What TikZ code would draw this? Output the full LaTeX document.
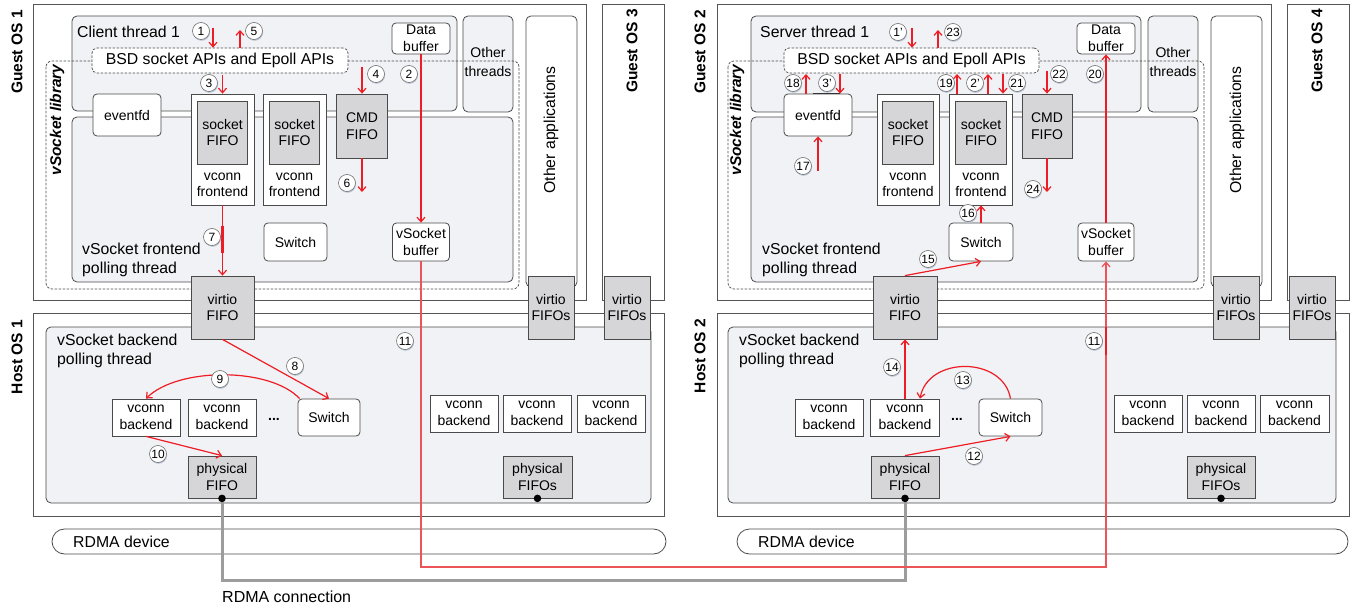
\documentclass[tikz,border=0pt]{standalone}
\usepackage{fontspec}
\setmainfont{Liberation Sans}
\usetikzlibrary{arrows.meta,shadows}
\definecolor{osedge}{HTML}{555555}
\definecolor{edge}{HTML}{4A4A4A}
\definecolor{paneFill}{HTML}{F1F2F5}
\definecolor{fifoFill}{HTML}{D6D6D8}
\definecolor{flow}{HTML}{EE1C24}
\definecolor{flowLong}{HTML}{EC5458}
\definecolor{link}{HTML}{9C9C9C}
\definecolor{badgeShadow}{HTML}{BCC8DA}
\newcommand\ndfont{\fontsize{14}{16.5}\selectfont}
\newcommand\ttlfont{\fontsize{15.8}{19}\selectfont}
\begin{document}
\begin{tikzpicture}[x=1pt,y=-1pt,
  osbox/.style={draw=osedge,line width=1pt},
  pane/.style={draw=edge,line width=0.8pt,fill=paneFill,rounded corners=5pt},
  whitepane/.style={draw=edge,line width=0.8pt,fill=white,rounded corners=5pt},
  libbox/.style={draw=edge,line width=0.7pt,dash pattern=on 2.5pt off 1.5pt,rounded corners=6pt},
  apibox/.style={draw=edge,line width=0.7pt,dash pattern=on 2.5pt off 1.5pt,fill=white,rounded corners=5pt,font=\ttlfont,inner sep=0pt},
  rail/.style={draw=edge,line width=0.8pt,rounded corners=12.5pt},
  rnode/.style={draw=edge,fill=white,line width=0.8pt,rounded corners=4pt,align=center,font=\ndfont,inner sep=0pt},
  snode/.style={draw=edge,fill=white,line width=0.8pt,align=center,font=\ndfont,inner sep=0pt},
  fifo/.style={draw=edge,fill=fifoFill,line width=0.8pt,align=center,font=\ndfont,inner sep=0pt},
  sz/.style 2 args={minimum width=#1pt,minimum height=#2pt},
  osname/.style={font=\bfseries\fontsize{15.5}{18}\selectfont,rotate=90,inner sep=0pt},
  libname/.style={font=\bfseries\itshape\fontsize{15.5}{18}\selectfont,rotate=90,inner sep=0pt},
  title/.style={font=\ttlfont,align=left,anchor=west,inner sep=0pt},
  plain/.style={font=\ndfont,align=center,inner sep=0pt},
  flowarrow/.style={draw=flow,line width=1.2pt,-{Straight Barb[length=4.5pt,width=8pt]}},
  thickflow/.style={draw=flow,line width=2.2pt},
  longflow/.style={draw=flowLong,line width=1.3pt,-{Straight Barb[length=4.5pt,width=8pt]}},
  rdma/.style={draw=link,line width=3pt},
  badge/.style={circle,draw=edge!80,fill=white,line width=0.6pt,minimum size=17pt,inner sep=0pt,
    font=\fontsize{12}{12}\selectfont,
    drop shadow={shadow xshift=0.6pt,shadow yshift=-1.3pt,fill=badgeShadow,opacity=1}}
]
\useasboundingbox (0,0) rectangle (1351,609);

% ---------- operating system frames ----------
\draw[osbox] (33,5) rectangle (586,301);
\draw[osbox] (602,5) rectangle (664,301);
\draw[osbox] (33,314) rectangle (664,516);
\draw[osbox] (717,5) rectangle (1271,301);
\draw[osbox] (1287,5) rectangle (1349,301);
\draw[osbox] (717,314) rectangle (1349,516);
\node[osname] (g1) at (17,52) {Guest OS 1};
\node[osname] (g3) at (632,51) {Guest OS 3};
\node[osname] (h1) at (17,357) {Host OS 1};
\node[osname] (g2) at (700,52) {Guest OS 2};
\node[osname] (g4) at (1317,51) {Guest OS 4};
\node[osname] (h2) at (700,356) {Host OS 2};

% ---------- thread panes, client side ----------
\draw[pane] (72,16) rectangle (457,111);
\draw[pane] (72,117) rectangle (513,282);
\draw[pane] (463,16) rectangle (513,112);
\draw[whitepane] (526,16) rectangle (577,287);
\draw[pane] (46,327) rectangle (651,503);
\draw[rail] (52,529) rectangle (666,554);
\node[title] (ctL) at (77,32) {Client thread 1};
\node[plain,font=\fontsize{14}{20}\selectfont] (otL) at (488,62) {Other\\threads};
\node[plain,rotate=90,font=\ttlfont] (oaL) at (551,130) {Other applications};
\node[title] (fpL) at (82,259.5) {vSocket frontend\\polling thread};
\node[title] (bpL) at (57,351) {vSocket backend\\polling thread};
\node[title] (rdL) at (73,542) {RDMA device};

% ---------- thread panes, server side ----------
\draw[pane] (751,16) rectangle (1141,112);
\draw[pane] (751,117) rectangle (1198,282);
\draw[pane] (1148,16) rectangle (1198,112);
\draw[whitepane] (1211,16) rectangle (1262,287);
\draw[pane] (728,327) rectangle (1336,503);
\draw[rail] (737,529) rectangle (1348,554);
\node[title] (stR) at (760,32) {Server thread 1};
\node[plain,font=\fontsize{14}{20}\selectfont] (otR) at (1173,62) {Other\\threads};
\node[plain,rotate=90,font=\ttlfont] (oaR) at (1237,130) {Other applications};
\node[title] (fpR) at (762,259.5) {vSocket frontend\\polling thread};
\node[title] (bpR) at (739,351) {vSocket backend\\polling thread};
\node[title] (rdR) at (758,542) {RDMA device};

% ---------- vSocket library outlines and API layer ----------
\draw[libbox] (46,61) rectangle (519,289);
\draw[libbox] (728,61) rectangle (1204,289);
\node[libname] (libL) at (57,120) {vSocket library};
\node[libname] (libR) at (737,120) {vSocket library};
\node[apibox,sz={256}{25}] (bsdL) at (220,60.5) {BSD socket APIs and Epoll APIs};
\node[apibox,sz={255}{25}] (bsdR) at (911.5,60.5) {BSD socket APIs and Epoll APIs};

% ---------- client side components ----------
\node[rnode,sz={68}{42}] (evL) at (127,115) {eventfd};
\node[snode,sz={63}{111}] (vf1L) at (222.5,149.5) {};
\node[fifo,sz={50}{63}] (sf1L) at (222.5,132.5) {socket\\FIFO};
\node[plain] (vt1L) at (222.5,185) {vconn\\frontend};
\node[snode,sz={63}{111}] (vf2L) at (294.5,149.5) {};
\node[fifo,sz={50}{63}] (sf2L) at (294.5,132.5) {socket\\FIFO};
\node[plain] (vt2L) at (294.5,185) {vconn\\frontend};
\node[fifo,sz={51}{64}] (cmdL) at (362,126) {CMD\\FIFO};
\node[rnode,sz={58}{31}] (dbL) at (421,38.5) {Data\\buffer};
\node[rnode,sz={63}{38}] (swFL) at (295.5,242) {Switch};
\node[rnode,sz={57}{38}] (vbufL) at (421,242) {vSocket\\buffer};
\node[fifo,sz={63}{63}] (virtioL) at (222.5,307.5) {virtio\\FIFO};
\node[fifo,sz={46}{63}] (vq1L) at (551,307.5) {virtio\\FIFOs};
\node[fifo,sz={46}{63}] (vq2L) at (627,307.5) {virtio\\FIFOs};
\node[snode,sz={68}{37}] (vb1L) at (146,417.5) {vconn\\backend};
\node[snode,sz={68}{37}] (vb2L) at (222,417.5) {vconn\\backend};
\node[plain,font=\bfseries\ndfont] (dotsL) at (274,419) {...};
\node[rnode,sz={62}{37}] (swBL) at (329,417.5) {Switch};
\node[fifo,sz={68}{42}] (pfL) at (222,477) {physical\\FIFO};
\node[snode,sz={68}{37}] (vb3L) at (464,413.5) {vconn\\backend};
\node[snode,sz={68}{37}] (vb4L) at (537,413.5) {vconn\\backend};
\node[snode,sz={68}{37}] (vb5L) at (611,413.5) {vconn\\backend};
\node[fifo,sz={69}{42}] (pfsL) at (537.5,477) {physical\\FIFOs};

% ---------- server side components ----------
\node[rnode,sz={68}{42}] (evR) at (818,115) {eventfd};
\node[snode,sz={62}{111}] (vfAR) at (908,149.5) {};
\node[fifo,sz={51}{63}] (sfAR) at (908,132.5) {socket\\FIFO};
\node[plain] (vtAR) at (908,185) {vconn\\frontend};
\node[snode,sz={63}{111}] (vfBR) at (981,149.5) {};
\node[fifo,sz={51}{63}] (sfBR) at (981,132.5) {socket\\FIFO};
\node[plain] (vtBR) at (981,185) {vconn\\frontend};
\node[fifo,sz={50}{64}] (cmdR) at (1047,126) {CMD\\FIFO};
\node[rnode,sz={58}{31}] (dbR) at (1106,38.5) {Data\\buffer};
\node[rnode,sz={64}{38}] (swFR) at (981,242) {Switch};
\node[rnode,sz={56}{38}] (vbufR) at (1106,242) {vSocket\\buffer};
\node[fifo,sz={64}{63}] (virtioR) at (905,307.5) {virtio\\FIFO};
\node[fifo,sz={46}{63}] (vq1R) at (1236,307.5) {virtio\\FIFOs};
\node[fifo,sz={46}{63}] (vq2R) at (1312,307.5) {virtio\\FIFOs};
\node[snode,sz={68}{37}] (vbAR) at (829,417.5) {vconn\\backend};
\node[snode,sz={69}{37}] (vbBR) at (905,417.5) {vconn\\backend};
\node[plain,font=\bfseries\ndfont] (dotsR) at (957,419) {...};
\node[rnode,sz={63}{37}] (swBR) at (1010.5,417.5) {Switch};
\node[fifo,sz={68}{42}] (pfR) at (905,477) {physical\\FIFO};
\node[snode,sz={68}{37}] (vb3R) at (1148,413.5) {vconn\\backend};
\node[snode,sz={68}{37}] (vb4R) at (1221,413.5) {vconn\\backend};
\node[snode,sz={69}{37}] (vb5R) at (1294.5,413.5) {vconn\\backend};
\node[fifo,sz={68}{42}] (pfsR) at (1221,477) {physical\\FIFOs};
\draw[black!80,line width=1.8pt] ([xshift=-5pt]evR.north) -- ([xshift=22pt]evR.north);

% ---------- RDMA connection between the physical FIFOs ----------
\coordinate (lowGray) at (0,580);
\draw[rdma] (pfL.south) |- (pfR.south |- lowGray) -- (pfR.south);
\foreach \f in {pfL,pfsL,pfR,pfsR} \fill[black] (\f.south) circle (3.8pt);
\node[title,font=\fontsize{16}{19}\selectfont] (rdmac) at (222,597) {RDMA connection};

% ---------- data path from client buffer to server buffer ----------
\coordinate (lowRed) at (0,567);
\draw[flowarrow] (dbL.south) -- (vbufL.north);
\draw[thickflow] (dbL.south) -- ++(0,36);
\draw[longflow] (vbufL.south) |- (vbufR.south |- lowRed) -- (vbufR.south);
\draw[flowarrow] (vbufR.north) -- (dbR.south);
\draw[thickflow] ([yshift=-2pt]dbR.south) -- ++(0,34);
\draw[thickflow] (1106,327) -- (1106,355);

% ---------- client side control flow ----------
\coordinate (s1L) at (213,28);
\draw[flowarrow] (s1L) -- (s1L |- bsdL.north);
\coordinate (e5L) at (240,30);
\draw[flowarrow] (e5L |- bsdL.north) -- (e5L);
\coordinate (s3L) at (222.5,75);
\draw[flowarrow] (s3L) -- (vf1L.north);
\coordinate (s4L) at (362,67);
\draw[flowarrow] (s4L) -- (cmdL.north);
\coordinate (e6L) at (362,192);
\draw[flowarrow] (cmdL.south) -- (e6L);
\draw[flowarrow] (vf1L.south) -- (virtioL.north);
\draw[thickflow] (222.5,226) -- (222.5,253);
\draw[flowarrow] (virtioL.south) -- (swBL.north);
\draw[flowarrow] ([xshift=2pt]swBL.north west) .. controls (270,367) and (178,367) .. (vb1L.north);
\draw[flowarrow] (vb1L.south) -- (pfL.north);

% ---------- server side control flow ----------
\draw[flowarrow] (pfR.north) -- (swBR.south);
\draw[flowarrow] (swBR.north) .. controls (1003,356) and (928,356) .. ([xshift=15pt]vbBR.north);
\draw[flowarrow] (vbBR.north) -- (virtioR.south);
\draw[flowarrow] (virtioR.north) -- (swFR.south);
\draw[flowarrow] (swFR.north) -- (vfBR.south);
\coordinate (s17R) at (818,171);
\draw[flowarrow] (s17R) -- (evR.south);
\coordinate (e18R) at (806,74);
\draw[flowarrow] (e18R |- evR.north) -- (e18R);
\coordinate (s3pR) at (840,74);
\draw[flowarrow] (s3pR) -- (s3pR |- evR.north);
\coordinate (e19R) at (957,74);
\draw[flowarrow] (e19R |- vfBR.north) -- (e19R);
\coordinate (e2pR) at (988,74);
\draw[flowarrow] (e2pR |- vfBR.north) -- (e2pR);
\coordinate (s21R) at (1003,74);
\draw[flowarrow] (s21R) -- (s21R |- vfBR.north);
\coordinate (s22R) at (1047,71);
\draw[flowarrow] (s22R) -- (cmdR.north);
\coordinate (e24R) at (1047,192);
\draw[flowarrow] (cmdR.south) -- (e24R);
\coordinate (s1R) at (912,28);
\draw[flowarrow] (s1R) -- (s1R |- bsdR.north);
\coordinate (e23R) at (938,30);
\draw[flowarrow] (e23R |- bsdR.north) -- (e23R);

% ---------- step numbers ----------
\node[badge] (b1) at (201,31) {1};
\node[badge] (b5) at (254,31) {5};
\node[badge] (b3) at (209,83) {3};
\node[badge] (b4) at (376,74) {4};
\node[badge] (b2) at (409,74) {2};
\node[badge] (b6) at (347,183) {6};
\node[badge] (b7) at (212,237) {7};
\node[badge] (b8) at (295,366) {8};
\node[badge] (b9) at (220,379) {9};
\node[badge] (b10) at (158,454) {10};
\node[badge] (b11L) at (405,341) {11};
\node[badge] (b1p) at (898,32) {1'};
\node[badge] (b23) at (953,32) {23};
\node[badge] (b18) at (793,83) {18};
\node[badge] (b3p) at (827,83) {3'};
\node[badge] (b19) at (946,83) {19};
\node[badge] (b2p) at (975,83) {2'};
\node[badge] (b21) at (1017,83) {21};
\node[badge] (b22) at (1059,74) {22};
\node[badge] (b20) at (1095,74) {20};
\node[badge] (b24) at (1033,189) {24};
\node[badge] (b17) at (803,166) {17};
\node[badge] (b16) at (968,213) {16};
\node[badge] (b15) at (928,259) {15};
\node[badge] (b14) at (892,367) {14};
\node[badge] (b13) at (963,380) {13};
\node[badge] (b12) at (974,456) {12};
\node[badge] (b11R) at (1094,341) {11};
\end{tikzpicture}
\end{document}
